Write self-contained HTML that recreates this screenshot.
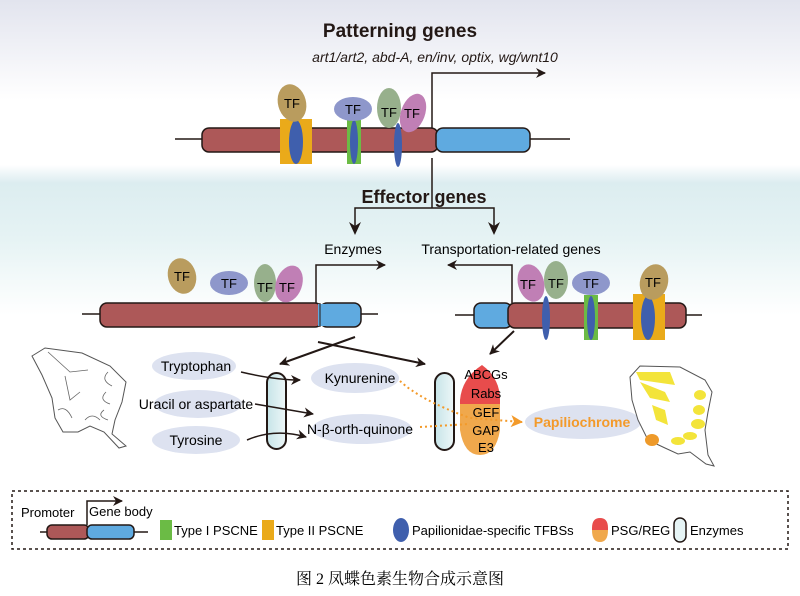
<!DOCTYPE html>
<html><head><meta charset="utf-8"><style>
html,body{margin:0;padding:0;background:#fff}
svg{display:block}
</style></head><body>
<svg width="800" height="596" viewBox="0 0 800 596" xmlns="http://www.w3.org/2000/svg" font-family="'Liberation Sans',Arial,sans-serif">
<defs>
<linearGradient id="bg1" x1="0" y1="0" x2="0" y2="1">
<stop offset="0" stop-color="#e2e4ee"/><stop offset="1" stop-color="#ffffff"/></linearGradient>
<linearGradient id="bg2" x1="0" y1="0" x2="0" y2="1">
<stop offset="0" stop-color="#ffffff"/><stop offset="0.12" stop-color="#dcedf0"/><stop offset="0.5" stop-color="#e6f3f4"/><stop offset="1" stop-color="#ffffff"/></linearGradient>
<linearGradient id="cap" x1="0" y1="0" x2="1" y2="0">
<stop offset="0" stop-color="#c6e4e8"/><stop offset="1" stop-color="#eef7f8"/></linearGradient>
<marker id="ah" markerWidth="10" markerHeight="10" refX="9" refY="5" orient="auto" markerUnits="userSpaceOnUse">
<path d="M0,0 L10,5 L0,10 L3,5 Z" fill="#231815"/></marker>
<marker id="ao" markerWidth="12" markerHeight="12" refX="11" refY="6" orient="auto" markerUnits="userSpaceOnUse">
<path d="M0,0 L12,6 L0,12 L3,6 Z" fill="#f39a2a"/></marker>
</defs>
<rect width="800" height="100" fill="url(#bg1)"/>
<rect y="165" width="800" height="150" fill="url(#bg2)"/>

<text x="400" y="37" font-size="19" font-weight="bold" text-anchor="middle" fill="#231815">Patterning genes</text>
<text x="435" y="62" font-size="14" font-style="italic" text-anchor="middle" fill="#231815">art1/art2, abd-A, en/inv, optix, wg/wnt10</text>

<!-- top gene -->
<line x1="175" y1="139" x2="570" y2="139" stroke="#231815" stroke-width="1.5"/>
<rect x="202" y="128" width="236" height="24" rx="7" fill="#ad5858" stroke="#231815" stroke-width="1.5"/>
<rect x="436" y="128" width="94" height="24" rx="7" fill="#5faae0" stroke="#231815" stroke-width="1.5"/>
<polyline points="432,128 432,73 545,73" fill="none" stroke="#231815" stroke-width="1.5" marker-end="url(#ah)"/>
<rect x="280" y="119" width="32" height="45" fill="#eaaa1a"/>
<ellipse cx="296" cy="142" rx="7" ry="22" fill="#3f5fad"/>
<ellipse cx="292" cy="103" rx="14" ry="19" fill="#b99c5e" transform="rotate(-15 292 103)"/>
<text x="292" y="108" font-size="13" text-anchor="middle">TF</text>
<rect x="347" y="120" width="14" height="44" fill="#6bbb45"/>
<ellipse cx="354" cy="142" rx="4" ry="22" fill="#3f5fad"/>
<ellipse cx="353" cy="109" rx="19" ry="12" fill="#8e97cb"/>
<text x="353" y="114" font-size="13" text-anchor="middle">TF</text>
<ellipse cx="398" cy="145" rx="4" ry="22" fill="#3f5fad"/>
<ellipse cx="389" cy="108" rx="12" ry="20" fill="#97b08c"/>
<ellipse cx="413" cy="113" rx="12" ry="20" fill="#c07fb5" transform="rotate(20 413 113)"/>
<text x="389" y="117" font-size="13" text-anchor="middle">TF</text>
<text x="412" y="118" font-size="13" text-anchor="middle">TF</text>

<!-- effector -->
<line x1="432" y1="158" x2="432" y2="208" stroke="#231815" stroke-width="1.5"/>
<text x="424" y="203" font-size="18" font-weight="bold" text-anchor="middle" fill="#231815">Effector genes</text>
<polyline points="355,232 355,208 494,208 494,232" fill="none" stroke="#231815" stroke-width="1.5"/>
<path d="M349,222 L355,235 L361,222 L355,226Z" fill="#231815"/>
<path d="M488,222 L494,235 L500,222 L494,226Z" fill="#231815"/>
<text x="353" y="254" font-size="14" text-anchor="middle">Enzymes</text>
<text x="511" y="254" font-size="14" text-anchor="middle">Transportation-related genes</text>

<!-- left gene -->
<line x1="82" y1="314" x2="378" y2="314" stroke="#231815" stroke-width="1.5"/>
<rect x="100" y="303" width="222" height="24" rx="7" fill="#ad5858" stroke="#231815" stroke-width="1.5"/>
<rect x="320" y="303" width="41" height="24" rx="7" fill="#5faae0" stroke="#231815" stroke-width="1.5"/>
<rect x="318" y="304" width="8" height="22" fill="#5faae0"/>
<line x1="320" y1="303" x2="320" y2="327" stroke="#231815" stroke-width="1"/>
<polyline points="316,303 316,265 385,265" fill="none" stroke="#231815" stroke-width="1.5" marker-end="url(#ah)"/>
<ellipse cx="182" cy="276" rx="14" ry="18" fill="#b99c5e" transform="rotate(-15 182 276)"/>
<text x="182" y="281" font-size="13" text-anchor="middle">TF</text>
<ellipse cx="229" cy="283" rx="19" ry="12" fill="#8e97cb"/>
<text x="229" y="288" font-size="13" text-anchor="middle">TF</text>
<ellipse cx="265" cy="283" rx="11" ry="19" fill="#97b08c"/>
<ellipse cx="289" cy="284" rx="13" ry="19" fill="#c07fb5" transform="rotate(20 289 284)"/>
<text x="265" y="292" font-size="13" text-anchor="middle">TF</text>
<text x="287" y="292" font-size="13" text-anchor="middle">TF</text>

<!-- right gene -->
<line x1="455" y1="315" x2="702" y2="315" stroke="#231815" stroke-width="1.5"/>
<rect x="474" y="303" width="38" height="25" rx="7" fill="#5faae0" stroke="#231815" stroke-width="1.5"/>
<rect x="508" y="303" width="178" height="25" rx="7" fill="#ad5858" stroke="#231815" stroke-width="1.5"/>
<polyline points="512,303 512,265 448,265" fill="none" stroke="#231815" stroke-width="1.5" marker-end="url(#ah)"/>
<ellipse cx="546" cy="318" rx="4" ry="22" fill="#3f5fad"/>
<ellipse cx="531" cy="283" rx="13" ry="19" fill="#c07fb5" transform="rotate(-15 531 283)"/>
<ellipse cx="556" cy="280" rx="12" ry="19" fill="#97b08c"/>
<text x="528" y="289" font-size="13" text-anchor="middle">TF</text>
<text x="556" y="288" font-size="13" text-anchor="middle">TF</text>
<rect x="584" y="295" width="14" height="45" fill="#6bbb45"/>
<ellipse cx="591" cy="318" rx="4" ry="22" fill="#3f5fad"/>
<ellipse cx="591" cy="283" rx="19" ry="12" fill="#8e97cb"/>
<text x="591" y="288" font-size="13" text-anchor="middle">TF</text>
<rect x="633" y="294" width="32" height="46" fill="#eaaa1a"/>
<ellipse cx="648" cy="318" rx="7" ry="22" fill="#3f5fad"/>
<ellipse cx="654" cy="282" rx="14" ry="18" fill="#b99c5e" transform="rotate(15 654 282)"/>
<text x="653" y="287" font-size="13" text-anchor="middle">TF</text>

<!-- arrows to pathway -->
<line x1="355" y1="337" x2="280" y2="364" stroke="#231815" stroke-width="2" marker-end="url(#ah)"/>
<line x1="318" y1="342" x2="425" y2="364" stroke="#231815" stroke-width="2" marker-end="url(#ah)"/>
<line x1="514" y1="331" x2="490" y2="354" stroke="#231815" stroke-width="2" marker-end="url(#ah)"/>

<!-- left wing -->
<path d="M32,356 L45,348 L82,353 L110,366 L126,382 L122,402 L115,420 L112,434 L126,446 L119,448 L104,432 L90,426 L78,432 L63,432 L55,418 L52,398 L42,375 Z" fill="#fff" stroke="#555" stroke-width="1"/>
<path d="M48,352 L70,372 L88,370 M65,376 L70,400 L80,392 M58,410 Q66,405 72,418 M108,372 Q100,380 112,386 M106,392 Q98,400 110,404 M104,410 Q96,416 108,420 M85,420 Q92,412 100,420" fill="none" stroke="#666" stroke-width="0.8"/>

<!-- pathway -->
<ellipse cx="194" cy="366" rx="42" ry="14" fill="#dde2f0"/>
<ellipse cx="198" cy="404" rx="44" ry="14" fill="#dde2f0"/>
<ellipse cx="196" cy="440" rx="44" ry="14" fill="#dde2f0"/>
<ellipse cx="355" cy="378" rx="44" ry="15" fill="#dde2f0"/>
<ellipse cx="362" cy="429" rx="50" ry="15" fill="#dde2f0"/>
<ellipse cx="583" cy="422" rx="58" ry="17" fill="#dde2f0"/>
<text x="196" y="371" font-size="14" text-anchor="middle">Tryptophan</text>
<text x="196" y="409" font-size="14" text-anchor="middle">Uracil or aspartate</text>
<text x="196" y="445" font-size="14" text-anchor="middle">Tyrosine</text>
<text x="360" y="383" font-size="14" text-anchor="middle">Kynurenine</text>
<text x="360" y="434" font-size="14" text-anchor="middle">N-β-orth-quinone</text>

<rect x="267" y="373" width="19" height="76" rx="9.5" fill="url(#cap)" stroke="#231815" stroke-width="2"/>
<path d="M241,372 Q275,380 300,380" fill="none" stroke="#231815" stroke-width="1.5" marker-end="url(#ah)"/>
<line x1="255" y1="404" x2="313" y2="414" stroke="#231815" stroke-width="1.5" marker-end="url(#ah)"/>
<path d="M247,440 Q275,428 306,437" fill="none" stroke="#231815" stroke-width="1.5" marker-end="url(#ah)"/>

<rect x="435" y="373" width="19" height="77" rx="9.5" fill="url(#cap)" stroke="#231815" stroke-width="2"/>
<path d="M482,365 Q500,378 500,400 L500,420 L460,420 L460,400 Q462,378 482,365Z" fill="#e84c4c"/>
<path d="M460,404 L500,404 L500,430 Q496,455 480,455 Q464,455 460,430Z" fill="#f0a84c"/>
<text x="486" y="379" font-size="13" text-anchor="middle">ABCGs</text>
<text x="486" y="398" font-size="13" text-anchor="middle">Rabs</text>
<text x="486" y="417" font-size="13" text-anchor="middle">GEF</text>
<text x="486" y="435" font-size="13" text-anchor="middle">GAP</text>
<text x="486" y="452" font-size="13" text-anchor="middle">E3</text>
<path d="M400,381 Q420,400 470,418 L522,422" fill="none" stroke="#f39a2a" stroke-width="2" stroke-dasharray="2,3" marker-end="url(#ao)"/>
<path d="M420,427 L470,424" fill="none" stroke="#f39a2a" stroke-width="2" stroke-dasharray="2,3"/>
<text x="582" y="427" font-size="14" font-weight="bold" text-anchor="middle" fill="#f39a2a">Papiliochrome</text>

<!-- right wing -->
<path d="M630,377 L640,366 L680,367 L705,380 L712,392 L708,412 L705,430 L708,455 L714,466 L706,464 L690,452 L678,454 L665,448 L648,440 L638,420 L632,400 Z" fill="#fff" stroke="#555" stroke-width="1"/>
<path d="M636,372 L670,372 L675,385 L640,380Z M640,382 L665,392 L670,402 L650,398Z M652,405 L665,410 L668,425 L656,420Z" fill="#f3e43a"/>
<ellipse cx="700" cy="395" rx="6" ry="5" fill="#f3e43a"/>
<ellipse cx="699" cy="410" rx="6" ry="5" fill="#f3e43a"/>
<ellipse cx="698" cy="424" rx="7" ry="5" fill="#f3e43a"/>
<ellipse cx="690" cy="436" rx="7" ry="4" fill="#f3e43a"/>
<ellipse cx="678" cy="441" rx="7" ry="4" fill="#f3e43a"/>
<ellipse cx="652" cy="440" rx="7" ry="6" fill="#ee9a2a"/>

<!-- legend -->
<rect x="12" y="491" width="776" height="58" fill="none" stroke="#231815" stroke-width="1.5" stroke-dasharray="3,3"/>
<text x="21" y="517" font-size="13">Promoter</text>
<text x="89" y="516" font-size="13">Gene body</text>
<polyline points="87,525 87,501 122,501" fill="none" stroke="#231815" stroke-width="1.5" marker-end="url(#ah)"/>
<line x1="40" y1="532" x2="148" y2="532" stroke="#231815" stroke-width="1.5"/>
<rect x="47" y="525" width="42" height="14" rx="5" fill="#ad5858" stroke="#231815" stroke-width="1.5"/>
<rect x="87" y="525" width="47" height="14" rx="5" fill="#5faae0" stroke="#231815" stroke-width="1.5"/>
<rect x="160" y="520" width="12" height="20" fill="#6bbb45"/>
<text x="174" y="535" font-size="13">Type I PSCNE</text>
<rect x="262" y="520" width="12" height="20" fill="#eaaa1a"/>
<text x="276" y="535" font-size="13">Type II PSCNE</text>
<ellipse cx="401" cy="530" rx="8" ry="12" fill="#3f5fad"/>
<text x="412" y="535" font-size="13">Papilionidae-specific TFBSs</text>
<path d="M592,530 L592,528 Q592,518 600,518 Q608,518 608,528 L608,530Z" fill="#e84c4c"/>
<path d="M592,530 L608,530 Q608,542 600,542 Q592,542 592,530Z" fill="#f0a84c"/>
<text x="611" y="535" font-size="13">PSG/REG</text>
<rect x="674" y="518" width="12" height="24" rx="6" fill="#e6f4f5" stroke="#231815" stroke-width="1.5"/>
<text x="690" y="535" font-size="13">Enzymes</text>

<text x="400" y="584" font-size="16" text-anchor="middle" style="font-family:'Liberation Serif','Noto Serif CJK SC',serif">图 2  凤蝶色素生物合成示意图</text>
</svg>
</body></html>
